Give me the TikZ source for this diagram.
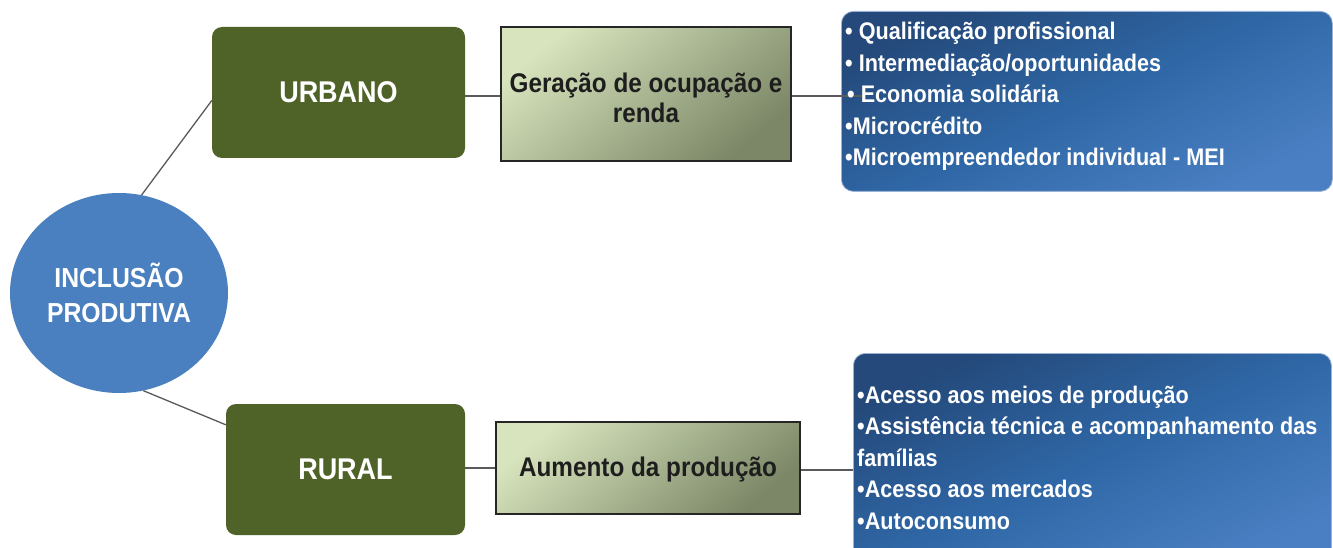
\documentclass[tikz,border=0pt]{standalone}
\usepackage{fontspec}
\setmainfont{Liberation Sans}[FakeStretch=0.9]
\usetikzlibrary{shapes.geometric,calc}
\definecolor{hubblue}{HTML}{4A80BF}
\definecolor{oliveD}{HTML}{4F6228}
\definecolor{greenL}{HTML}{D7E4BD}
\definecolor{greenD}{HTML}{7B8766}
\definecolor{boxline}{HTML}{262626}
\definecolor{textD}{HTML}{1E1E1E}
\definecolor{navyA}{HTML}{24497A}
\definecolor{navyM}{HTML}{2F67A6}
\definecolor{navyB}{HTML}{4A80C3}
\definecolor{navyEdge}{HTML}{9AB2D4}
\definecolor{linkgrey}{HTML}{5A5A5A}
\begin{document}
\begin{tikzpicture}[x=1pt,y=-1pt,
  hub/.style={ellipse, fill=hubblue, minimum width=218pt, minimum height=200pt,
    inner sep=0pt, text=white, align=center,
    font=\bfseries\fontsize{27.5}{35}\selectfont},
  areabox/.style={rounded corners=10pt, fill=oliveD, text=white, inner sep=0pt,
    font=\bfseries\fontsize{30}{36}\selectfont},
  actbox/.style={draw=boxline, line width=2pt, top color=greenL, bottom color=greenD,
    shading angle=40, text=textD, align=center, inner sep=0pt,
    font=\bfseries\fontsize{27}{30}\selectfont},
  listbox/.style={rounded corners=12pt, draw=navyEdge, line width=0.8pt,
    top color=navyA, bottom color=navyB, middle color=navyM, shading angle=25,
    inner sep=0pt, anchor=north west},
  item/.style={anchor=base west, text=white, inner sep=0pt,
    font=\bfseries\fontsize{24}{29}\selectfont},
  link/.style={draw=linkgrey, line width=1.3pt}
]
\useasboundingbox (0,0) rectangle (1333,548);
\clip (0,0) rectangle (1333,548);
\fill[white] (0,0) rectangle (1333,548);

% list boxes
\node[listbox, minimum width=491pt, minimum height=180pt] (l1) at (841,11) {};
\node[listbox, minimum width=478pt, minimum height=215pt] (l2) at (853,353) {};

% main nodes
\node[hub] (inc) at (119,293) {INCLUSÃO\\PRODUTIVA};
\node[areabox, minimum width=253pt, minimum height=131pt] (urb) at (338.5,92.5) {URBANO};
\node[areabox, minimum width=239pt, minimum height=131pt] (rur) at (345.5,469.5) {RURAL};
\node[actbox, minimum width=290pt, minimum height=134pt] (ger) at (646,94) {};
\node[text=textD, align=center, inner sep=0pt, font=\bfseries\fontsize{27}{30}\selectfont]
  (gert) at (646,98) {Geração de ocupação e\\renda};
\node[actbox, minimum width=304pt, minimum height=92pt] (aum) at (648,468) {};
\node[text=textD, inner sep=0pt, font=\bfseries\fontsize{27}{30}\selectfont]
  (aumt) at (648,470) {Aumento da produção};

% connectors
\coordinate (l1in) at (863,96);
\draw[link] (inc.77) -- ([yshift=-8pt]urb.west);
\draw[link] (inc.-76) -- ([yshift=-21pt]rur.north west);
\draw[link] ([yshift=-2pt]ger.west) -- ([yshift=-2pt]ger.west -| urb.east);
\draw[link] ([yshift=-2pt]ger.east) -- ([yshift=-2pt]ger.east -| l1in);
\draw[link] (aum.west) -- (aum.west -| rur.east);
\draw[link] ([yshift=-2pt]aum.east) -- ([yshift=-2pt]aum.east -| l2.west);

% items, urban
\node[item] (u1) at (845,40) {• Qualificação profissional};
\node[item] (u2) at (845,71.5) {• Intermediação/oportunidades};
\node[item] (u3) at (847,103) {• Economia solidária};
\node[item] (u4) at (845,134.5) {•Microcrédito};
\node[item] (u5) at (845,166) {•Microempreendedor individual - MEI};

% items, rural
\node[item] (r1) at (857,403) {•Acesso aos meios de produção};
\node[item] (r2) at (857,434.5) {•Assistência técnica e acompanhamento das};
\node[item] (r3) at (857,466) {famílias};
\node[item] (r4) at (857,497.5) {•Acesso aos mercados};
\node[item] (r5) at (857,529) {•Autoconsumo};
\end{tikzpicture}
\end{document}
